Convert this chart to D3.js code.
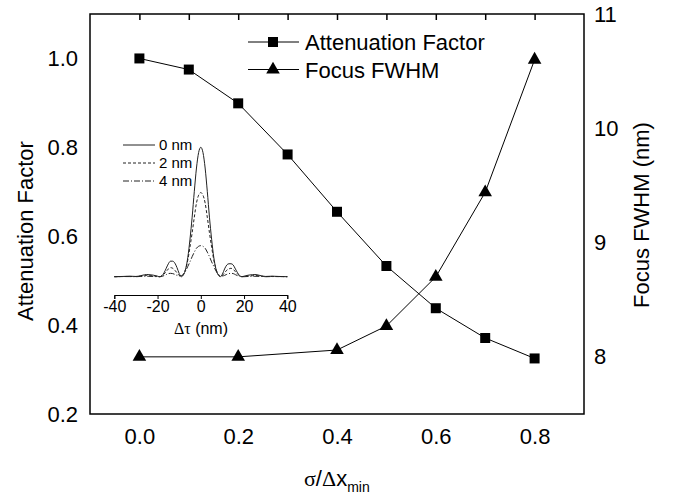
<!DOCTYPE html>
<html>
<head>
<meta charset="utf-8">
<script src="https://cdn.jsdelivr.net/npm/d3@7"></script>
<style>
body { margin: 0; background: #fff; }
svg { display: block; font-family: "Liberation Sans", Arial, sans-serif; }
</style>
</head>
<body>
<svg></svg>
<script>
const SVG_WIDTH = 676;
const SVG_HEIGHT = 495;
const LEFT = 90, RIGHT = 584, TOP = 14, BOTTOM = 414;

// main data
const sigma = [0.0, 0.1, 0.2, 0.3, 0.4, 0.5, 0.6, 0.7, 0.8];
const attenuation = [1.0, 0.975, 0.899, 0.784, 0.655, 0.533, 0.438, 0.371, 0.325];
const fwhmSigma = [0.0, 0.2, 0.4, 0.5, 0.6, 0.7, 0.8];
const fwhm = [8.0, 8.0, 8.06, 8.27, 8.70, 9.44, 10.60];

const xTicks = [0.0, 0.2, 0.4, 0.6, 0.8];
const leftTicks = [0.2, 0.4, 0.6, 0.8, 1.0];
const rightTicks = [8, 9, 10, 11];

// inset data (relative intensity vs delta tau)
const tau = [-40, -36, -33, -30, -28, -26, -25, -24, -22, -20, -19, -18, -17, -16, -15, -14, -13, -12, -11, -10, -9, -8, -7, -6, -5, -4, -3, -2, -1,
  0, 1, 2, 3, 4, 5, 6, 7, 8, 9, 10, 11, 12, 13, 14, 15, 16, 17, 18, 19, 20, 22, 24, 25, 26, 28, 30, 33, 36, 40];
const curve0 = [0, 0.002, 0.004, 0.002, 0.007, 0.015, 0.017, 0.016, 0.012, 0.004, 0, 0.008, 0.03, 0.065, 0.10, 0.12, 0.12, 0.105, 0.07, 0.025, 0, 0.015, 0.06, 0.15, 0.29, 0.46, 0.66, 0.84, 0.96,
  1.0, 0.96, 0.84, 0.66, 0.46, 0.29, 0.15, 0.06, 0.015, 0, 0.02, 0.06, 0.09, 0.10, 0.10, 0.09, 0.06, 0.03, 0.008, 0, 0.004, 0.012, 0.016, 0.017, 0.015, 0.007, 0.002, 0.004, 0.002, 0];
const curve2 = [0, 0.001, 0.002, 0.001, 0.004, 0.008, 0.009, 0.008, 0.006, 0.002, 0, 0.006, 0.02, 0.04, 0.06, 0.07, 0.065, 0.05, 0.03, 0.01, 0.005, 0.02, 0.06, 0.13, 0.23, 0.34, 0.46, 0.57, 0.63,
  0.65, 0.63, 0.57, 0.46, 0.34, 0.23, 0.13, 0.06, 0.02, 0.005, 0.01, 0.03, 0.05, 0.06, 0.065, 0.055, 0.04, 0.02, 0.006, 0, 0.002, 0.006, 0.008, 0.009, 0.008, 0.004, 0.001, 0.002, 0.001, 0];
const curve4 = [0, 0.001, 0.001, 0, 0.002, 0.003, 0.003, 0.003, 0.002, 0, 0, 0.003, 0.008, 0.016, 0.024, 0.026, 0.024, 0.018, 0.01, 0.006, 0.008, 0.02, 0.045, 0.08, 0.115, 0.155, 0.19, 0.22, 0.235,
  0.24, 0.235, 0.22, 0.19, 0.155, 0.115, 0.08, 0.045, 0.02, 0.008, 0.006, 0.01, 0.018, 0.024, 0.026, 0.024, 0.016, 0.008, 0.003, 0, 0, 0.002, 0.003, 0.003, 0.003, 0.002, 0, 0.001, 0.001, 0];
const insetSeries = ["0 nm", "2 nm", "4 nm"];
const insetTicks = [-40, -20, 0, 20, 40];

const svg = d3.select("svg").attr("width", SVG_WIDTH).attr("height", SVG_HEIGHT);

const xScale = d3.scaleLinear().domain([-0.1, 0.9]).range([LEFT, RIGHT]);
const yLeft = d3.scaleLinear().domain([0.2, 1.1]).range([BOTTOM, TOP]);
const yRight = d3.scaleLinear().domain([7.5, 11]).range([BOTTOM, TOP]);

// frame
svg.append("rect").attr("x", LEFT).attr("y", TOP)
  .attr("width", RIGHT - LEFT).attr("height", BOTTOM - TOP)
  .attr("fill", "none").attr("stroke", "#000").attr("stroke-width", 1.5);

// bottom axis
const bottomAxis = svg.append("g").attr("transform", "translate(0," + BOTTOM + ")");
bottomAxis.call(d3.axisBottom(xScale).tickValues(d3.range(0, 9).map(d => d / 10)).tickSize(6).tickFormat(""));
bottomAxis.call(d3.axisBottom(xScale).tickValues(xTicks).tickSize(0).tickPadding(14).tickFormat(d3.format(".1f")));
bottomAxis.selectAll(".domain").remove();
bottomAxis.selectAll("text").attr("font-size", 22).attr("font-family", "Liberation Sans, Arial, sans-serif").attr("fill", "#000");
bottomAxis.selectAll("line").attr("stroke-width", 1.5);

// top axis, inward ticks
const topAxis = svg.append("g").attr("transform", "translate(0," + TOP + ")");
topAxis.call(d3.axisBottom(xScale).tickValues(d3.range(0, 9).map(d => d / 10)).tickSize(6).tickFormat(""));
topAxis.selectAll(".domain").remove();
topAxis.selectAll("line").attr("stroke-width", 1.5);

// left axis
const leftAxis = svg.append("g").attr("transform", "translate(" + LEFT + ",0)");
leftAxis.call(d3.axisLeft(yLeft).tickValues(d3.range(2, 12).map(d => d / 10)).tickSize(6).tickFormat(""));
leftAxis.call(d3.axisLeft(yLeft).tickValues(leftTicks).tickSize(0).tickPadding(12).tickFormat(d3.format(".1f")));
leftAxis.selectAll(".domain").remove();
leftAxis.selectAll("text").attr("font-size", 22).attr("font-family", "Liberation Sans, Arial, sans-serif").attr("fill", "#000");
leftAxis.selectAll("line").attr("stroke-width", 1.5);

// right axis
const rightAxis = svg.append("g").attr("transform", "translate(" + RIGHT + ",0)");
rightAxis.call(d3.axisRight(yRight).tickValues([7.5, 8, 8.5, 9, 9.5, 10, 10.5, 11]).tickSize(6).tickFormat(""));
rightAxis.call(d3.axisRight(yRight).tickValues(rightTicks).tickSize(0).tickPadding(10).tickFormat(d3.format("d")));
rightAxis.selectAll(".domain").remove();
rightAxis.selectAll("text").attr("font-size", 22).attr("font-family", "Liberation Sans, Arial, sans-serif").attr("fill", "#000");
rightAxis.selectAll("line").attr("stroke-width", 1.5);

// axis titles
svg.append("text").attr("transform", "translate(33,231) rotate(-90)")
  .attr("text-anchor", "middle").attr("font-size", 22).text("Attenuation Factor");
svg.append("text").attr("transform", "translate(649,215) rotate(-90)")
  .attr("text-anchor", "middle").attr("font-size", 22).text("Focus FWHM (nm)");
const xTitle = svg.append("text").attr("x", 304).attr("y", 486).attr("font-size", 22);
xTitle.append("tspan").attr("font-family", "Liberation Serif, serif").text("σ");
xTitle.append("tspan").text("/");
xTitle.append("tspan").attr("font-family", "Liberation Serif, serif").text("Δ");
xTitle.append("tspan").text("x");
xTitle.append("tspan").attr("font-size", 14).attr("dy", 6).text("min");

// series lines
const attLine = d3.line().x((d, i) => xScale(sigma[i])).y(d => yLeft(d));
svg.append("path").attr("d", attLine(attenuation)).attr("fill", "none").attr("stroke", "#000").attr("stroke-width", 1);
const fwhmLine = d3.line().x((d, i) => xScale(fwhmSigma[i])).y(d => yRight(d));
svg.append("path").attr("d", fwhmLine(fwhm)).attr("fill", "none").attr("stroke", "#000").attr("stroke-width", 1);

const square = d3.symbol().type(d3.symbolSquare).size(100);
const triangle = d3.symbol().type(d3.symbolTriangle).size(80);

svg.selectAll(".sq").data(attenuation).enter().append("path")
  .attr("d", square)
  .attr("transform", (d, i) => "translate(" + xScale(sigma[i]) + "," + yLeft(d) + ")");
svg.selectAll(".tri").data(fwhm).enter().append("path")
  .attr("d", triangle)
  .attr("transform", (d, i) => "translate(" + xScale(fwhmSigma[i]) + "," + yRight(d) + ")");

// legend
const legend = svg.append("g");
[["Attenuation Factor", square], ["Focus FWHM", triangle]].forEach(function(item, i) {
  const y = 42 + i * 27.5;
  legend.append("line").attr("x1", 248).attr("x2", 299).attr("y1", y).attr("y2", y).attr("stroke", "#000");
  legend.append("path").attr("d", item[1]).attr("transform", "translate(273," + y + ")");
  legend.append("text").attr("x", 305).attr("y", y + 8).attr("font-size", 22).text(item[0]);
});

// inset
const ix = d3.scaleLinear().domain([-40, 40]).range([114.3, 287.3]);
const iy = d3.scaleLinear().domain([0, 1]).range([276.7, 147.3]);
const insetAxis = svg.append("g").attr("transform", "translate(0,295)");
insetAxis.call(d3.axisBottom(ix).tickValues([-30, -10, 10, 30]).tickSize(3).tickFormat(""));
insetAxis.call(d3.axisBottom(ix).tickValues(insetTicks).tickSize(4).tickPadding(2).tickFormat(d => String(d)));
insetAxis.selectAll(".domain").attr("stroke-width", 1);
insetAxis.selectAll("text").attr("font-size", 16).attr("font-family", "Liberation Sans, Arial, sans-serif").attr("fill", "#000");
const insetTitle = svg.append("text").attr("x", 201).attr("y", 334).attr("text-anchor", "middle").attr("font-size", 16);
insetTitle.append("tspan").attr("font-family", "Liberation Serif, serif").text("Δτ");
insetTitle.append("tspan").text(" (nm)");

const dashes = [null, "3,2", "6,2,1,2"];
const insetLine = d3.line().x((d, i) => ix(tau[i])).y(d => iy(d)).curve(d3.curveMonotoneX);
[curve0, curve2, curve4].forEach(function(c, i) {
  svg.append("path").attr("d", insetLine(c)).attr("fill", "none")
    .attr("stroke", "#222").attr("stroke-width", 1).attr("stroke-dasharray", dashes[i]);
  const y = 145 + i * 18;
  svg.append("line").attr("x1", 123).attr("x2", 155).attr("y1", y).attr("y2", y)
    .attr("stroke", "#222").attr("stroke-width", 1).attr("stroke-dasharray", dashes[i]);
  svg.append("text").attr("x", 159).attr("y", y + 5).attr("font-size", 15).text(insetSeries[i]);
});
</script>
</body>
</html>
